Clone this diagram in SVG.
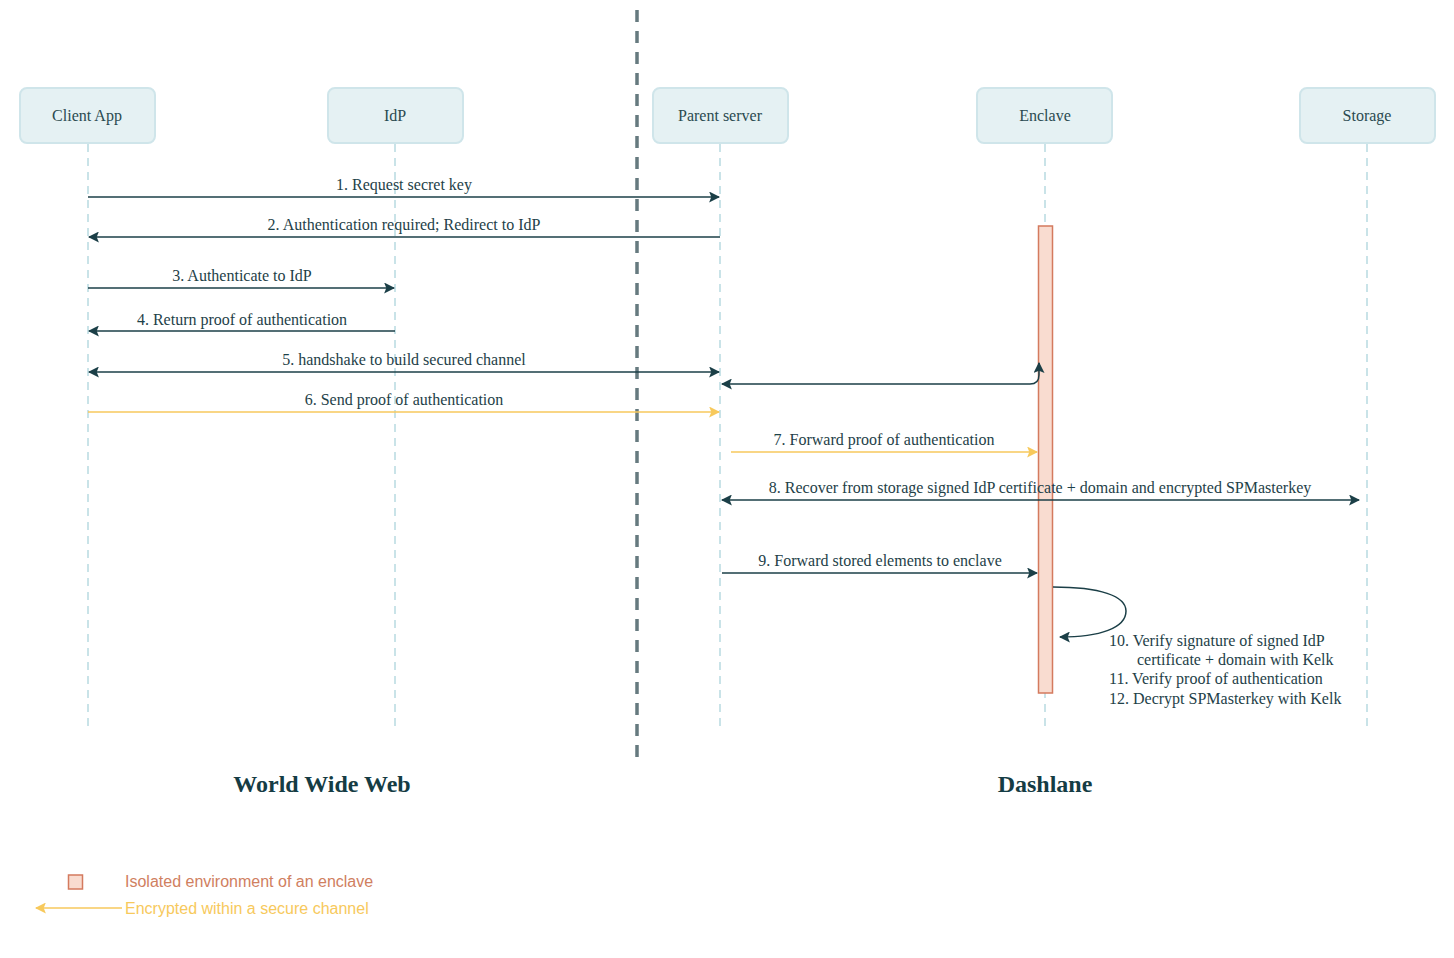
<svg xmlns="http://www.w3.org/2000/svg" width="1454" height="958" viewBox="0 0 1454 958">
<defs>
<style>
.box{fill:#e5f1f3;stroke:#cfe5ea;stroke-width:2}
.nt{font-family:"Liberation Serif",serif;font-size:16px;fill:#2a4a50;text-anchor:middle}
.life{stroke:#c9e3e8;stroke-width:2;stroke-dasharray:8,6;fill:none}
.msg{stroke:#1b3f47;stroke-width:1.5;fill:none}
.enc{stroke:#f7c95c;stroke-width:1.5;fill:none}
.lbl{font-family:"Liberation Serif",serif;font-size:16px;fill:#1e4148;text-anchor:middle}
.note{font-family:"Liberation Serif",serif;font-size:16px;fill:#1e4148}
.big{font-family:"Liberation Serif",serif;font-size:24px;font-weight:bold;fill:#153c44;text-anchor:middle}
.leg{font-family:"Liberation Sans",sans-serif;font-size:16px}
</style>
<marker id="ad" viewBox="0 0 10 10" refX="9" refY="5" markerWidth="11" markerHeight="11" markerUnits="userSpaceOnUse" orient="auto-start-reverse"><path d="M0,0 L10,5 L0,10 L2,5 z" fill="#1b3f47"/></marker>
<marker id="ay" viewBox="0 0 10 10" refX="9" refY="5" markerWidth="11" markerHeight="11" markerUnits="userSpaceOnUse" orient="auto-start-reverse"><path d="M0,0 L10,5 L0,10 L2,5 z" fill="#f7c95c"/></marker>
</defs>
<rect width="1454" height="958" fill="#ffffff"/>

<g id="lifelines">
<line class="life" x1="88" y1="144" x2="88" y2="730"/>
<line class="life" x1="395" y1="144" x2="395" y2="730"/>
<line class="life" x1="720" y1="144" x2="720" y2="730"/>
<line class="life" x1="1045" y1="144" x2="1045" y2="730"/>
<line class="life" x1="1367" y1="144" x2="1367" y2="730"/>
</g>

<line id="divider" x1="637" y1="10" x2="637" y2="762" stroke="#667a7f" stroke-width="3.5" stroke-dasharray="12,9"/>

<g id="client"><rect class="box" x="20" y="88" width="135" height="55" rx="7"/><text class="nt" x="87" y="121">Client App</text></g>
<g id="idp"><rect class="box" x="328" y="88" width="135" height="55" rx="7"/><text class="nt" x="395" y="121">IdP</text></g>
<g id="parent"><rect class="box" x="653" y="88" width="135" height="55" rx="7"/><text class="nt" x="720" y="121">Parent server</text></g>
<g id="enclave"><rect class="box" x="977" y="88" width="135" height="55" rx="7"/><text class="nt" x="1045" y="121">Enclave</text></g>
<g id="storage"><rect class="box" x="1300" y="88" width="135" height="55" rx="7"/><text class="nt" x="1367" y="121">Storage</text></g>

<g id="activation"><rect x="1038.5" y="226" width="14" height="467" fill="#f9dcd0" stroke="#d47a5e" stroke-width="1.5"/></g>

<g id="connectors">
<line class="msg" x1="88" y1="197" x2="719" y2="197" marker-end="url(#ad)"/>
<text class="lbl" x="404" y="190">1. Request secret key</text>
<line class="msg" x1="720" y1="237" x2="89" y2="237" marker-end="url(#ad)"/>
<text class="lbl" x="404" y="230">2. Authentication required; Redirect to IdP</text>
<line class="msg" x1="88" y1="288" x2="394" y2="288" marker-end="url(#ad)"/>
<text class="lbl" x="242" y="281">3. Authenticate to IdP</text>
<line class="msg" x1="395" y1="331" x2="89" y2="331" marker-end="url(#ad)"/>
<text class="lbl" x="242" y="325">4. Return proof of authentication</text>
<line class="msg" x1="89" y1="372" x2="719" y2="372" marker-start="url(#ad)" marker-end="url(#ad)"/>
<text class="lbl" x="404" y="365">5. handshake to build secured channel</text>
<path class="msg" d="M722,384 H1030 Q1039,384 1039,375 V363" marker-start="url(#ad)" marker-end="url(#ad)"/>
<line class="enc" x1="88" y1="412" x2="719" y2="412" marker-end="url(#ay)"/>
<text class="lbl" x="404" y="405">6. Send proof of authentication</text>
<line class="enc" x1="731" y1="452" x2="1037" y2="452" marker-end="url(#ay)"/>
<text class="lbl" x="884" y="445">7. Forward proof of authentication</text>
<line class="msg" x1="722" y1="500" x2="1359" y2="500" marker-start="url(#ad)" marker-end="url(#ad)"/>
<text class="lbl" x="1040" y="493">8. Recover from storage signed IdP certificate + domain and encrypted SPMasterkey</text>
<line class="msg" x1="722" y1="573" x2="1037" y2="573" marker-end="url(#ad)"/>
<text class="lbl" x="880" y="566">9. Forward stored elements to enclave</text>
<path class="msg" d="M1053,587 C1100,587 1126,596 1126,611 C1126,628 1100,637 1060,637" marker-end="url(#ad)"/>
<text class="note" x="1109" y="646">10. Verify signature of signed IdP</text>
<text class="note" x="1137" y="665">certificate + domain with Kelk</text>
<text class="note" x="1109" y="684">11. Verify proof of authentication</text>
<text class="note" x="1109" y="704">12. Decrypt SPMasterkey with Kelk</text>
</g>

<text class="big" x="322" y="792">World Wide Web</text>
<text class="big" x="1045" y="792">Dashlane</text>

<g id="legend">
<rect x="68.5" y="875" width="14" height="14" fill="#f9dcd0" stroke="#d47a5e" stroke-width="1.5"/>
<text class="leg" x="125" y="887" fill="#d0805f">Isolated environment of an enclave</text>
<line class="enc" x1="122" y1="908" x2="36" y2="908" marker-end="url(#ay)"/>
<text class="leg" x="125" y="914" fill="#f7c95c">Encrypted within a secure channel</text>
</g>
</svg>
